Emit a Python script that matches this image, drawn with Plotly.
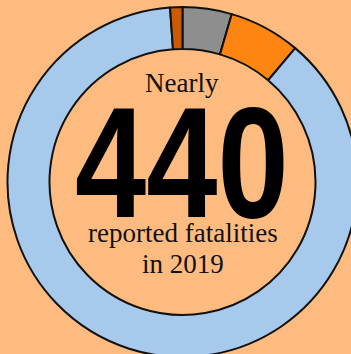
import plotly.graph_objects as go

# Reported fatalities in 2019, split by category (clockwise from 12 o'clock)
categories = ["Category A", "Category B", "Category C", "Category D"]
fatalities = [20, 29, 386, 5]
slice_colors = ["#8E8E8E", "#FF8512", "#A6C9EC", "#CC5A00"]

headline_top = "Nearly"
headline_number = "440"
headline_bottom = ["reported fatalities", "in 2019"]

BG = "#FEBB7F"
W, H = 365, 357
TOP = 7
NUMBER_SQUEEZE = 0.81  # narrow the big figure into a condensed look


def px_x(x):
    return x / W


def px_y(y):
    return (H - y) / (H - TOP)


fig = go.Figure(
    go.Pie(
        labels=categories,
        values=fatalities,
        hole=0.76,
        sort=False,
        direction="clockwise",
        rotation=0,
        textinfo="none",
        hoverinfo="label+value",
        marker=dict(colors=slice_colors, line=dict(color="#111111", width=2)),
        domain=dict(x=[0, 1], y=[0, 1]),
    )
)

serif = "Liberation Serif, Georgia, serif"
ann = [
    dict(text=headline_top, x=px_x(182), y=px_y(83),
         font=dict(family=serif, size=27, color="#111111")),
    dict(text="<b>" + headline_number + "</b>", x=px_x(181.5), y=px_y(162),
         font=dict(family="Liberation Sans, Arial, sans-serif",
                   size=158, color="#000000")),
    dict(text=headline_bottom[0], x=px_x(183), y=px_y(232.5),
         font=dict(family=serif, size=27, color="#111111")),
    dict(text=headline_bottom[1], x=px_x(183), y=px_y(264),
         font=dict(family=serif, size=27, color="#111111")),
]
for a in ann:
    a.update(xref="paper", yref="paper", xanchor="center", yanchor="middle",
             showarrow=False)

fig.update_layout(
    width=W,
    height=H,
    margin=dict(l=0, r=0, t=TOP, b=0),
    paper_bgcolor=BG,
    plot_bgcolor=BG,
    showlegend=False,
    annotations=ann,
)

post = (
    "document.documentElement.style.overflow='hidden';"
    "document.body.style.overflow='hidden';"
    "document.body.style.margin='0';"
    "document.body.style.background='" + BG + "';"
    "var gd=document.getElementById('{plot_id}');"
    "gd.querySelectorAll('.annotation-text').forEach(function(t){"
    "  if(t.textContent==='" + headline_number + "'){"
    "    var b=t.getBBox(); var cx=b.x+b.width/2;"
    "    t.setAttribute('transform','translate('+cx+',0) scale(" + str(NUMBER_SQUEEZE) + ",1) translate('+(-cx)+',0)');"
    "  }"
    "});"
)

fig.write_html("out.html", config={"displayModeBar": False}, post_script=post)
